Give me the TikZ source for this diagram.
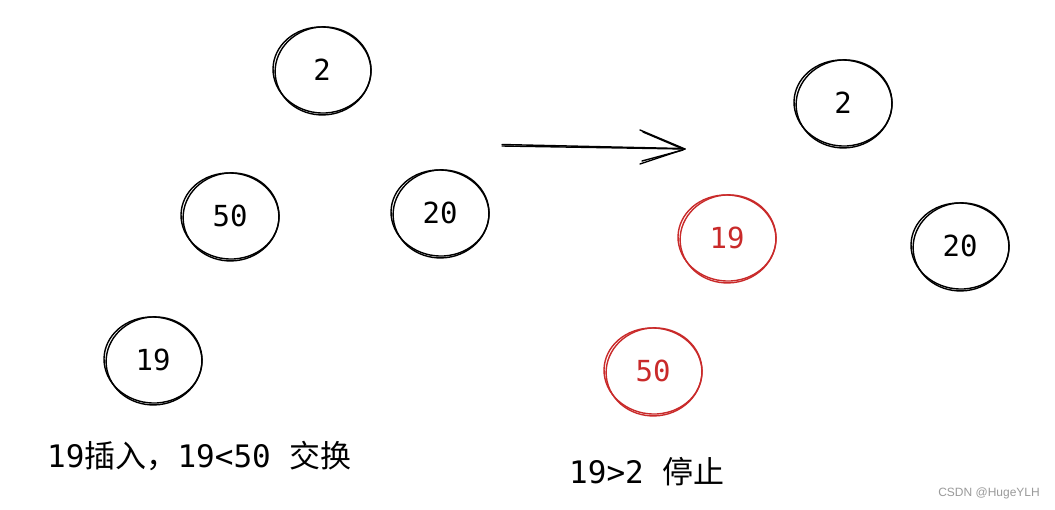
\documentclass[tikz,border=0pt]{standalone}
\usepackage{fontspec}
\setmainfont{DejaVu Sans Mono}
\newfontfamily\cjk{Noto Sans CJK SC}
\newfontfamily\wmfont{Liberation Sans}
\usetikzlibrary{calc}
\definecolor{exred}{HTML}{C92A2A}
\definecolor{wmgray}{HTML}{9A9A9A}
\newcommand\sknode[5]{%
  \node[lbl, text=#5] (#1) at (#2,#3) {#4};
  \draw[sk,draw=#5,rotate around={-4:(#2,#3)}] ($(#2,#3)+(70:49 and 43)$)
     arc[start angle=70, end angle=435, x radius=49, y radius=43];
  \draw[sk,draw=#5,rotate around={5:(#2,#3)}] ($(#2,#3)+(1,1)+(60:48 and 44)$)
     arc[start angle=60, end angle=420, x radius=48, y radius=44];
}
\begin{document}
\begin{tikzpicture}[x=1pt,y=-1pt,
  sk/.style={line width=1.4pt, line cap=round, line join=round},
  lbl/.style={font=\fontsize{29}{29}\selectfont, inner sep=0pt},
  txt/.style={font=\fontsize{31}{31}\selectfont, inner sep=0pt, anchor=west}]
\useasboundingbox (0,0) rectangle (1055,509);
\fill[white] (0,0) rectangle (1055,509);

% left tree
\sknode{la}{322}{70}{2}{black}
\sknode{lb}{230}{216}{50}{black}
\sknode{lc}{440}{213}{20}{black}
\sknode{ld}{153}{360}{19}{black}

% right tree
\sknode{ra}{843}{103}{2}{black}
\sknode{rb}{727}{238}{19}{exred}
\sknode{rc}{960}{246}{20}{black}
\sknode{rd}{653}{371}{50}{exred}

% arrow
\coordinate (as) at (502,146);
\coordinate (ae) at (685,149);
\coordinate (h1) at (640,130);
\coordinate (h2) at (640,164);
\draw[sk] (as) -- (ae);
\draw[sk] ($(as)+(0,-1.5)$) -- ($(ae)+(-4,-0.5)$);
\draw[sk] (h1) -- (ae);
\draw[sk] ($(h1)+(3,2)$) -- ($(ae)+(-2,0)$);
\draw[sk] (h2) -- (ae);
\draw[sk] ($(h2)+(2,-3)$) -- ($(ae)+(-2,1)$);

% texts
\node[txt] (t1) at (47,456) {19{\cjk 插入，}19<50 {\cjk 交换}};
\node[txt] (t2) at (569,472) {19>2 {\cjk 停止}};
\node[font=\wmfont\fontsize{12}{12}\selectfont, text=wmgray, anchor=east, inner sep=0pt] (wm) at (1040,493) {CSDN @HugeYLH};
\end{tikzpicture}
\end{document}
